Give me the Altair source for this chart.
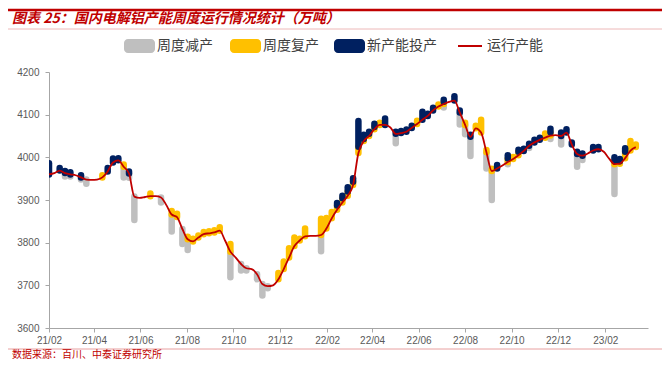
import altair as alt
import pandas as pd

# ---- data (weekly) ----
start_date = "2021-02-01"
capacity = [
    3960, 3963, 3969, 3963, 3960, 3958, 3953, 3948, 3947, 3948,
    3953, 3967, 3988, 3993, 3978, 3962, 3908, 3905, 3907, 3909,
    3909, 3906, 3888, 3866, 3860, 3832, 3808, 3803, 3812, 3820,
    3822, 3824, 3828, 3805, 3779, 3765, 3750, 3740, 3738, 3726,
    3703, 3698, 3700, 3714, 3738, 3765, 3792, 3805, 3815, 3816,
    3816, 3818, 3833, 3857, 3877, 3894, 3910, 3935, 4010, 4038,
    4050, 4066, 4076, 4076, 4070, 4055, 4057, 4060, 4069, 4078,
    4088, 4097, 4110, 4119, 4125, 4130, 4133, 4105, 4076, 4048,
    4068, 4058, 4012, 3968, 3974, 3981, 3989, 3996, 4005, 4015,
    4027, 4035, 4041, 4046, 4051, 4052, 4050, 4058, 4030, 4008,
    4004, 4009, 4016, 4019, 4013, 3997, 3984, 3985, 3998, 4016,
    4024,
]
reduction = [
    0, 0, 0, 8, 5, 0, 5, 10, 0, 0,
    0, 0, 0, 0, 25, 10, 55, 0, 0, 0,
    0, 12, 0, 40, 0, 35, 25, 0, 0, 0,
    0, 0, 0, 0, 60, 0, 15, 5, 0, 12,
    27, 5, 0, 0, 0, 0, 0, 0, 0, 0,
    0, 38, 0, 0, 0, 0, 0, 0, 0, 0,
    0, 0, 0, 0, 0, 22, 0, 0, 0, 0,
    0, 0, 0, 0, 8, 0, 0, 28, 22, 45,
    0, 0, 38, 68, 0, 0, 5, 0, 0, 0,
    5, 0, 0, 0, 8, 0, 20, 0, 0, 30,
    10, 0, 0, 0, 0, 0, 70, 0, 0, 0,
    0,
]
restart = [
    0, 0, 0, 0, 0, 0, 0, 0, 0, 0,
    5, 0, 0, 0, 5, 0, 0, 0, 0, 6,
    0, 0, 0, 8, 8, 0, 6, 6, 5, 5,
    5, 5, 8, 0, 18, 0, 0, 0, 0, 0,
    0, 0, 0, 15, 18, 22, 20, 4, 18, 0,
    0, 38, 25, 15, 10, 10, 10, 8, 15, 5,
    5, 5, 5, 0, 0, 0, 0, 0, 0, 8,
    0, 0, 0, 5, 5, 0, 0, 0, 5, 0,
    6, 30, 5, 5, 0, 0, 8, 5, 8, 0,
    0, 0, 0, 10, 8, 0, 0, 0, 0, 0,
    0, 0, 0, 0, 0, 0, 8, 6, 15, 22,
    6,
]
new_capacity = [
    26, 0, 6, 5, 5, 0, 5, 0, 0, 0,
    0, 8, 9, 5, 0, 5, 0, 0, 0, 0,
    0, 0, 0, 0, 0, 0, 0, 0, 0, 0,
    0, 0, 0, 0, 0, 0, 0, 0, 0, 0,
    0, 0, 0, 0, 0, 0, 0, 0, 0, 0,
    0, 0, 0, 0, 6, 6, 10, 8, 60, 10,
    5, 8, 0, 15, 0, 5, 5, 5, 5, 0,
    19, 5, 6, 0, 5, 0, 10, 5, 0, 5,
    0, 0, 0, 0, 8, 0, 8, 0, 5, 5,
    5, 6, 5, 0, 8, 0, 8, 8, 5, 5,
    5, 0, 8, 5, 0, 0, 8, 5, 8, 0,
    0,
]
series_names = ["周度减产", "周度复产", "新产能投产", "运行产能"]
series_colors = ["#BFBFBF", "#FFC000", "#002060", "#C00000"]
x_tick_months = [(2021, 2), (2021, 4), (2021, 6), (2021, 8), (2021, 10), (2021, 12),
                 (2022, 2), (2022, 4), (2022, 6), (2022, 8), (2022, 10), (2022, 12),
                 (2023, 2)]
y_ticks = [3600, 3700, 3800, 3900, 4000, 4100, 4200]
title_text = "图表 25：国内电解铝产能周度运行情况统计（万吨）"
source_text = "数据来源：百川、中泰证券研究所"

# ---- tables ----
dates = pd.date_range(start_date, periods=len(capacity), freq="7D")
base = pd.DataFrame({"date": dates, "cap": capacity, "red": reduction,
                     "rs": restart, "nw": new_capacity})
gray_df = base[base.red > 0].assign(lo=lambda d: d.cap - d.red, hi=lambda d: d.cap)
yellow_df = base[base.rs > 0].assign(lo=lambda d: d.cap, hi=lambda d: d.cap + d.rs)
navy_df = base[base.nw > 0].assign(lo=lambda d: d.cap + d.rs, hi=lambda d: d.cap + d.rs + d.nw)
line_df = base[["date", "cap"]]
one = pd.DataFrame({"k": [0]})

GRAY_AX = "#A6A6A6"
LAB = "#595959"

x_enc = alt.X(
    "date:T",
    scale=alt.Scale(domain=[alt.DateTime(year=2021, month=2, date=1),
                            alt.DateTime(year=2023, month=3, date=29)]),
    axis=alt.Axis(values=[alt.DateTime(year=y, month=m, date=1) for y, m in x_tick_months],
                  format="%y/%m", formatType="time", title=None, grid=False,
                  tickSize=4, tickColor=GRAY_AX, domainColor=GRAY_AX,
                  labelFontSize=10, labelColor=LAB, labelPadding=3,
                  labelFont="Liberation Sans", labelOverlap=False, labelFlush=False),
)


def y_enc(field):
    return alt.Y(
        field,
        scale=alt.Scale(domain=[3600, 4200], nice=False, zero=False),
        axis=alt.Axis(values=y_ticks, format="d", title=None, grid=False, tickSize=4,
                      tickColor=GRAY_AX, domainColor=GRAY_AX, labelFontSize=10,
                      labelColor=LAB, labelPadding=6, labelFont="Liberation Sans",
                      labelFlush=False),
    )


def bars(df, color):
    return alt.Chart(df).mark_rule(strokeWidth=6.5, strokeCap="round", clip=True).encode(
        x=x_enc, y=y_enc("lo:Q"), y2="hi:Q", color=alt.value(color))


gray = bars(gray_df, series_colors[0])
yellow = bars(yellow_df, series_colors[1])
navy = bars(navy_df, series_colors[2])
line = alt.Chart(line_df).mark_line(strokeWidth=1.8, interpolate="monotone").encode(
    x=x_enc, y=y_enc("cap:Q"), color=alt.value(series_colors[3]))

# ---- decorations (relative to plot origin) ----
deco = []
deco.append(alt.Chart(one).mark_rule(strokeWidth=2.5, color="#C00000").encode(
    x=alt.value(-41), x2=alt.value(613), y=alt.value(-62)))
deco.append(alt.Chart(one).mark_text(align="left", baseline="middle", fontSize=14,
                                     fontWeight="bold", fontStyle="italic",
                                     font="Noto Sans CJK SC", color="#C00000").encode(
    x=alt.value(-37), y=alt.value(-53), text=alt.value(title_text)))
deco.append(alt.Chart(one).mark_rule(strokeWidth=1, color="#EDB8B8").encode(
    x=alt.value(-41), x2=alt.value(613), y=alt.value(-43)))
deco.append(alt.Chart(one).mark_rule(strokeWidth=1, color="#E8A0A0").encode(
    x=alt.value(-41), x2=alt.value(613), y=alt.value(277)))
deco.append(alt.Chart(one).mark_text(align="left", baseline="middle", fontSize=10,
                                     font="Noto Sans CJK SC", color="#C00000").encode(
    x=alt.value(-37), y=alt.value(283), text=alt.value(source_text)))

# legend
leg_y = -26
rect_x = [75, 181, 285]
text_x = [108, 214, 318, 438]
for i in range(3):
    deco.append(alt.Chart(one).mark_rect(cornerRadius=4, color=series_colors[i]).encode(
        x=alt.value(rect_x[i]), x2=alt.value(rect_x[i] + 31),
        y=alt.value(leg_y - 7), y2=alt.value(leg_y + 7)))
deco.append(alt.Chart(one).mark_rule(strokeWidth=2, color=series_colors[3]).encode(
    x=alt.value(409), x2=alt.value(433), y=alt.value(leg_y)))
for i in range(4):
    deco.append(alt.Chart(one).mark_text(align="left", baseline="middle", fontSize=14,
                                         font="Noto Sans CJK SC", color="#404040").encode(
        x=alt.value(text_x[i]), y=alt.value(leg_y), text=alt.value(series_names[i])))

chart = alt.layer(gray, yellow, navy, line, *deco).properties(
    width=599, height=256,
    padding={"left": 41, "top": 64, "right": 14, "bottom": 35},
    autosize=alt.AutoSizeParams(type="none"),
).configure_view(stroke=None)

chart.save("out.html", embed_options={"renderer": "svg", "actions": False})
